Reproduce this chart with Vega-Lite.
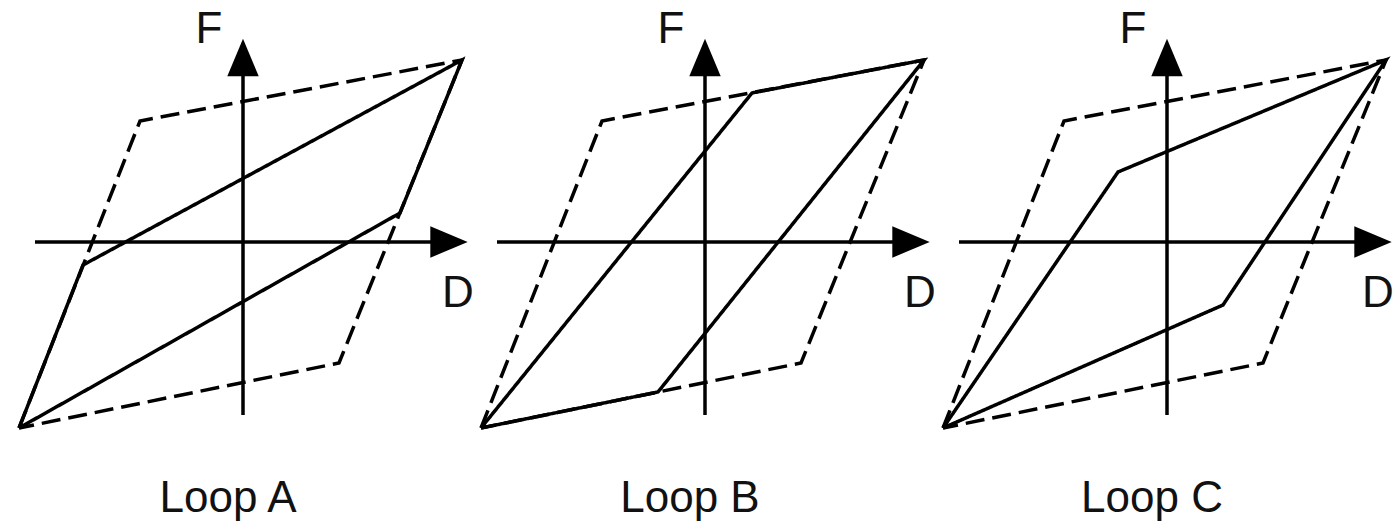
{
  "$schema": "https://vega.github.io/schema/vega-lite/v6.json",
  "padding": 0,
  "background": "white",
  "bounds": "flush",
  "config": {"view": {"stroke": null}},
  "data": {
    "values": [
      {"loop": "Loop A", "part": "env", "i": 0, "x": -224, "y": -186},
      {"loop": "Loop A", "part": "env", "i": 1, "x": -103, "y": 121},
      {"loop": "Loop A", "part": "env", "i": 2, "x": 219, "y": 182},
      {"loop": "Loop A", "part": "env", "i": 3, "x": 96, "y": -121},
      {"loop": "Loop A", "part": "env", "i": 4, "x": -224, "y": -186},
      {"loop": "Loop A", "part": "loop", "i": 0, "x": -224, "y": -186},
      {"loop": "Loop A", "part": "loop", "i": 1, "x": -160, "y": -23},
      {"loop": "Loop A", "part": "loop", "i": 2, "x": 219, "y": 182},
      {"loop": "Loop A", "part": "loop", "i": 3, "x": 157, "y": 29},
      {"loop": "Loop A", "part": "loop", "i": 4, "x": -224, "y": -186},
      {"loop": "Loop A", "part": "axis", "x": -208, "x2": 205, "y": 0, "y2": 0},
      {"loop": "Loop A", "part": "axis", "x": 0, "x2": 0, "y": -173, "y2": 180},
      {"loop": "Loop A", "part": "arrow", "dir": "up", "x": 0, "y": 184.5},
      {"loop": "Loop A", "part": "arrow", "dir": "right", "x": 206, "y": 0},
      {"loop": "Loop A", "part": "label", "text": "F", "x": -34, "y": 199},
      {"loop": "Loop A", "part": "label", "text": "D", "x": 215, "y": -65},

      {"loop": "Loop B", "part": "env", "i": 0, "x": -224, "y": -186},
      {"loop": "Loop B", "part": "env", "i": 1, "x": -103, "y": 121},
      {"loop": "Loop B", "part": "env", "i": 2, "x": 219, "y": 182},
      {"loop": "Loop B", "part": "env", "i": 3, "x": 96, "y": -121},
      {"loop": "Loop B", "part": "env", "i": 4, "x": -224, "y": -186},
      {"loop": "Loop B", "part": "loop", "i": 0, "x": -224, "y": -186},
      {"loop": "Loop B", "part": "loop", "i": 1, "x": -47, "y": -150},
      {"loop": "Loop B", "part": "loop", "i": 2, "x": 219, "y": 182},
      {"loop": "Loop B", "part": "loop", "i": 3, "x": 47, "y": 149},
      {"loop": "Loop B", "part": "loop", "i": 4, "x": -224, "y": -186},
      {"loop": "Loop B", "part": "axis", "x": -208, "x2": 205, "y": 0, "y2": 0},
      {"loop": "Loop B", "part": "axis", "x": 0, "x2": 0, "y": -173, "y2": 180},
      {"loop": "Loop B", "part": "arrow", "dir": "up", "x": 0, "y": 184.5},
      {"loop": "Loop B", "part": "arrow", "dir": "right", "x": 206, "y": 0},
      {"loop": "Loop B", "part": "label", "text": "F", "x": -34, "y": 199},
      {"loop": "Loop B", "part": "label", "text": "D", "x": 215, "y": -65},

      {"loop": "Loop C", "part": "env", "i": 0, "x": -224, "y": -186},
      {"loop": "Loop C", "part": "env", "i": 1, "x": -103, "y": 121},
      {"loop": "Loop C", "part": "env", "i": 2, "x": 219, "y": 182},
      {"loop": "Loop C", "part": "env", "i": 3, "x": 96, "y": -121},
      {"loop": "Loop C", "part": "env", "i": 4, "x": -224, "y": -186},
      {"loop": "Loop C", "part": "loop", "i": 0, "x": -224, "y": -186},
      {"loop": "Loop C", "part": "loop", "i": 1, "x": -49, "y": 70},
      {"loop": "Loop C", "part": "loop", "i": 2, "x": 219, "y": 182},
      {"loop": "Loop C", "part": "loop", "i": 3, "x": 56, "y": -63},
      {"loop": "Loop C", "part": "loop", "i": 4, "x": -224, "y": -186},
      {"loop": "Loop C", "part": "axis", "x": -208, "x2": 205, "y": 0, "y2": 0},
      {"loop": "Loop C", "part": "axis", "x": 0, "x2": 0, "y": -173, "y2": 180},
      {"loop": "Loop C", "part": "arrow", "dir": "up", "x": 0, "y": 184.5},
      {"loop": "Loop C", "part": "arrow", "dir": "right", "x": 206, "y": 0},
      {"loop": "Loop C", "part": "label", "text": "F", "x": -34, "y": 199},
      {"loop": "Loop C", "part": "label", "text": "D", "x": 211, "y": -65}
    ]
  },
  "facet": {
    "column": {
      "field": "loop",
      "type": "nominal",
      "title": null,
      "header": {
        "labelOrient": "bottom",
        "labelFont": "Liberation Sans",
        "labelFontSize": 44,
        "labelColor": "#111",
        "labelBaseline": "alphabetic",
        "labelPadding": 72
      }
    }
  },
  "spacing": 6,
  "spec": {
    "width": 456,
    "height": 440,
    "encoding": {
      "x": {"field": "x", "type": "quantitative", "scale": {"domain": [-243, 213], "nice": false, "zero": false}, "axis": null},
      "y": {"field": "y", "type": "quantitative", "scale": {"domain": [-198, 242], "nice": false, "zero": false}, "axis": null}
    },
    "layer": [
      {
        "transform": [{"filter": "datum.part === 'axis'"}],
        "mark": {"type": "rule", "strokeWidth": 3.5, "color": "black"},
        "encoding": {"x2": {"field": "x2"}, "y2": {"field": "y2"}}
      },
      {
        "transform": [{"filter": "datum.part === 'env' || datum.part === 'loop'"}],
        "mark": {"type": "line", "strokeWidth": 3.5, "color": "black", "strokeJoin": "miter", "strokeCap": "butt"},
        "encoding": {
          "order": {"field": "i", "type": "quantitative"},
          "detail": {"field": "part", "type": "nominal"},
          "strokeDash": {"field": "part", "type": "nominal", "scale": {"domain": ["env", "loop"], "range": [[19, 8], [1, 0]]}, "legend": null}
        }
      },
      {
        "transform": [{"filter": "datum.part === 'arrow'"}],
        "mark": {"type": "point", "filled": true, "color": "black", "opacity": 1, "size": 1400, "strokeWidth": 0},
        "encoding": {
          "shape": {"field": "dir", "type": "nominal", "scale": {"domain": ["up", "right"], "range": ["M0,-1L0.84,1L-0.84,1Z", "M1,0L-1,0.84L-1,-0.84Z"]}, "legend": null}
        }
      },
      {
        "transform": [{"filter": "datum.part === 'label'"}],
        "mark": {"type": "text", "font": "Liberation Sans", "fontSize": 44, "color": "#111", "align": "center", "baseline": "alphabetic"},
        "encoding": {"text": {"field": "text", "type": "nominal"}}
      }
    ]
  }
}
